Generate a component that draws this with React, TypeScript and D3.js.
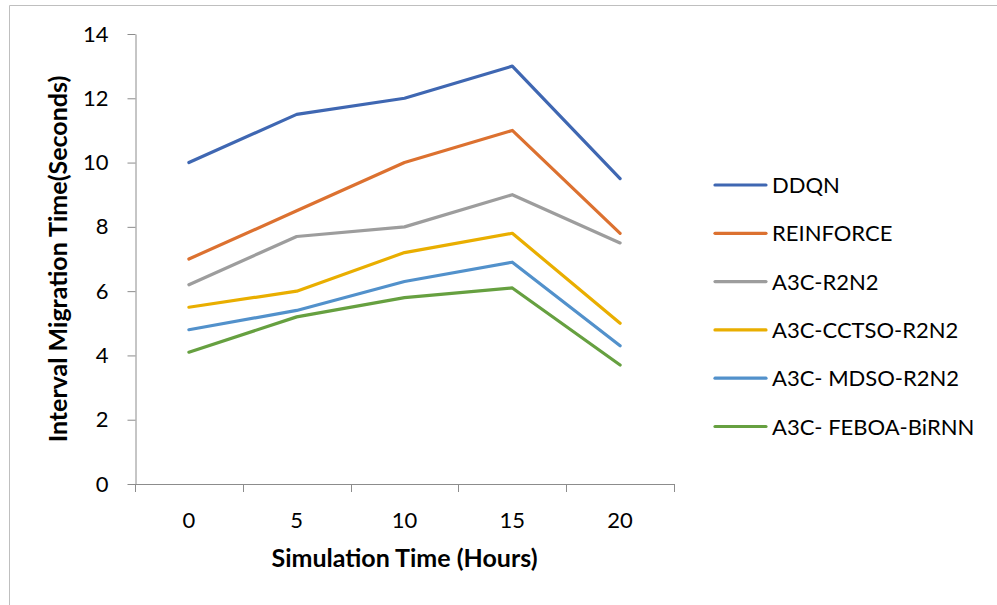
import React, { useEffect, useRef } from "react";
import * as d3 from "d3";

const hours = ["0", "5", "10", "15", "20"];
const yTicks = [0, 2, 4, 6, 8, 10, 12, 14];

const seriesNames = [
  "DDQN",
  "REINFORCE",
  "A3C-R2N2",
  "A3C-CCTSO-R2N2",
  "A3C- MDSO-R2N2",
  "A3C- FEBOA-BiRNN",
];
const ddqn = [10, 11.5, 12, 13, 9.5];
const reinforce = [7, 8.5, 10, 11, 7.8];
const a3cR2n2 = [6.2, 7.7, 8, 9, 7.5];
const a3cCctso = [5.5, 6, 7.2, 7.8, 5];
const a3cMdso = [4.8, 5.4, 6.3, 6.9, 4.3];
const a3cFeboa = [4.1, 5.2, 5.8, 6.1, 3.7];
const seriesValues = [ddqn, reinforce, a3cR2n2, a3cCctso, a3cMdso, a3cFeboa];
const colors = ["#3F67B2", "#DC7130", "#9D9D9D", "#E9AE00", "#5291CB", "#66A040"];

const FONT = "Lato, 'Open Sans', sans-serif";

const App: React.FC = () => {
  const svgRef = useRef<SVGSVGElement>(null);

  useEffect(() => {
    const W = 997;
    const H = 605;
    const left = 135;
    const right = 674;
    const top = 34;
    const bottom = 484;

    const svg = d3.select(svgRef.current).attr("width", W).attr("height", H);
    svg.selectAll("*").remove();

    svg.append("rect").attr("width", W).attr("height", H).attr("fill", "#fff");

    // chart frame (only left and top edges visible)
    svg
      .append("path")
      .attr("d", `M9.5,${H} V5.5 H${W}`)
      .attr("fill", "none")
      .attr("stroke", "#bfbfbf")
      .attr("stroke-width", 1);

    const x = d3.scaleBand().domain(hours).range([left, right]).padding(0);
    const y = d3.scaleLinear().domain([0, 14]).range([bottom, top]);

    // Y axis
    const yAxis = svg
      .append("g")
      .attr("transform", `translate(${left + 0.5},0)`)
      .call(d3.axisLeft(y).tickValues(yTicks).tickSize(8).tickPadding(19).tickSizeOuter(0));
    yAxis.select(".domain").attr("stroke", "#8c8c8c");
    yAxis.selectAll(".tick line").attr("stroke", "#8c8c8c");
    yAxis
      .selectAll(".tick text")
      .attr("fill", "#000")
      .style("font-family", FONT)
      .style("font-size", "22px");

    // X axis (ticks between categories)
    const xg = svg.append("g");
    xg.append("line")
      .attr("x1", left)
      .attr("x2", right)
      .attr("y1", bottom + 0.5)
      .attr("y2", bottom + 0.5)
      .attr("stroke", "#8c8c8c");
    const bounds = hours.map((h) => x(h) as number).concat([right]);
    xg.selectAll("line.tk")
      .data(bounds)
      .join("line")
      .attr("class", "tk")
      .attr("x1", (d) => Math.round(d) + 0.5)
      .attr("x2", (d) => Math.round(d) + 0.5)
      .attr("y1", bottom)
      .attr("y2", bottom + 8)
      .attr("stroke", "#8c8c8c");
    xg.selectAll("text")
      .data(hours)
      .join("text")
      .attr("x", (d) => (x(d) as number) + x.bandwidth() / 2)
      .attr("y", 520)
      .attr("dy", "0.35em")
      .attr("text-anchor", "middle")
      .style("font-family", FONT)
      .style("font-size", "22px")
      .text((d) => d);

    // Lines
    const line = d3
      .line<number>()
      .x((_, i) => (x(hours[i]) as number) + x.bandwidth() / 2)
      .y((d) => y(d));

    seriesValues.forEach((vals, i) => {
      svg
        .append("path")
        .datum(vals)
        .attr("d", line)
        .attr("fill", "none")
        .attr("stroke", colors[i])
        .attr("stroke-width", 3.2)
        .attr("stroke-linejoin", "round")
        .attr("stroke-linecap", "round");
    });

    // Axis titles
    svg
      .append("text")
      .attr("x", (left + right) / 2)
      .attr("y", 567)
      .attr("text-anchor", "middle")
      .style("font-family", FONT)
      .style("font-weight", "bold")
      .style("font-size", "25px")
      .text("Simulation Time (Hours)");

    svg
      .append("text")
      .attr("transform", `translate(67,${(top + bottom) / 2}) rotate(-90)`)
      .attr("text-anchor", "middle")
      .style("font-family", FONT)
      .style("font-weight", "bold")
      .style("font-size", "25px")
      .text("Interval Migration Time(Seconds)");

    // Legend
    const legend = svg.append("g").attr("transform", "translate(714,185)");
    seriesNames.forEach((name, i) => {
      const row = legend.append("g").attr("transform", `translate(0,${i * 48.3})`);
      row
        .append("line")
        .attr("x1", 1)
        .attr("x2", 52)
        .attr("stroke", colors[i])
        .attr("stroke-width", 3.2)
        .attr("stroke-linecap", "round");
      row
        .append("text")
        .attr("x", 58)
        .attr("y", 8)
        .style("font-family", FONT)
        .style("font-size", "22px")
        .text(name);
    });
  }, []);

  return (
    <svg
      ref={svgRef}
      style={{ position: "absolute", left: 0, top: 0, display: "block" }}
    ></svg>
  );
};

export default App;
